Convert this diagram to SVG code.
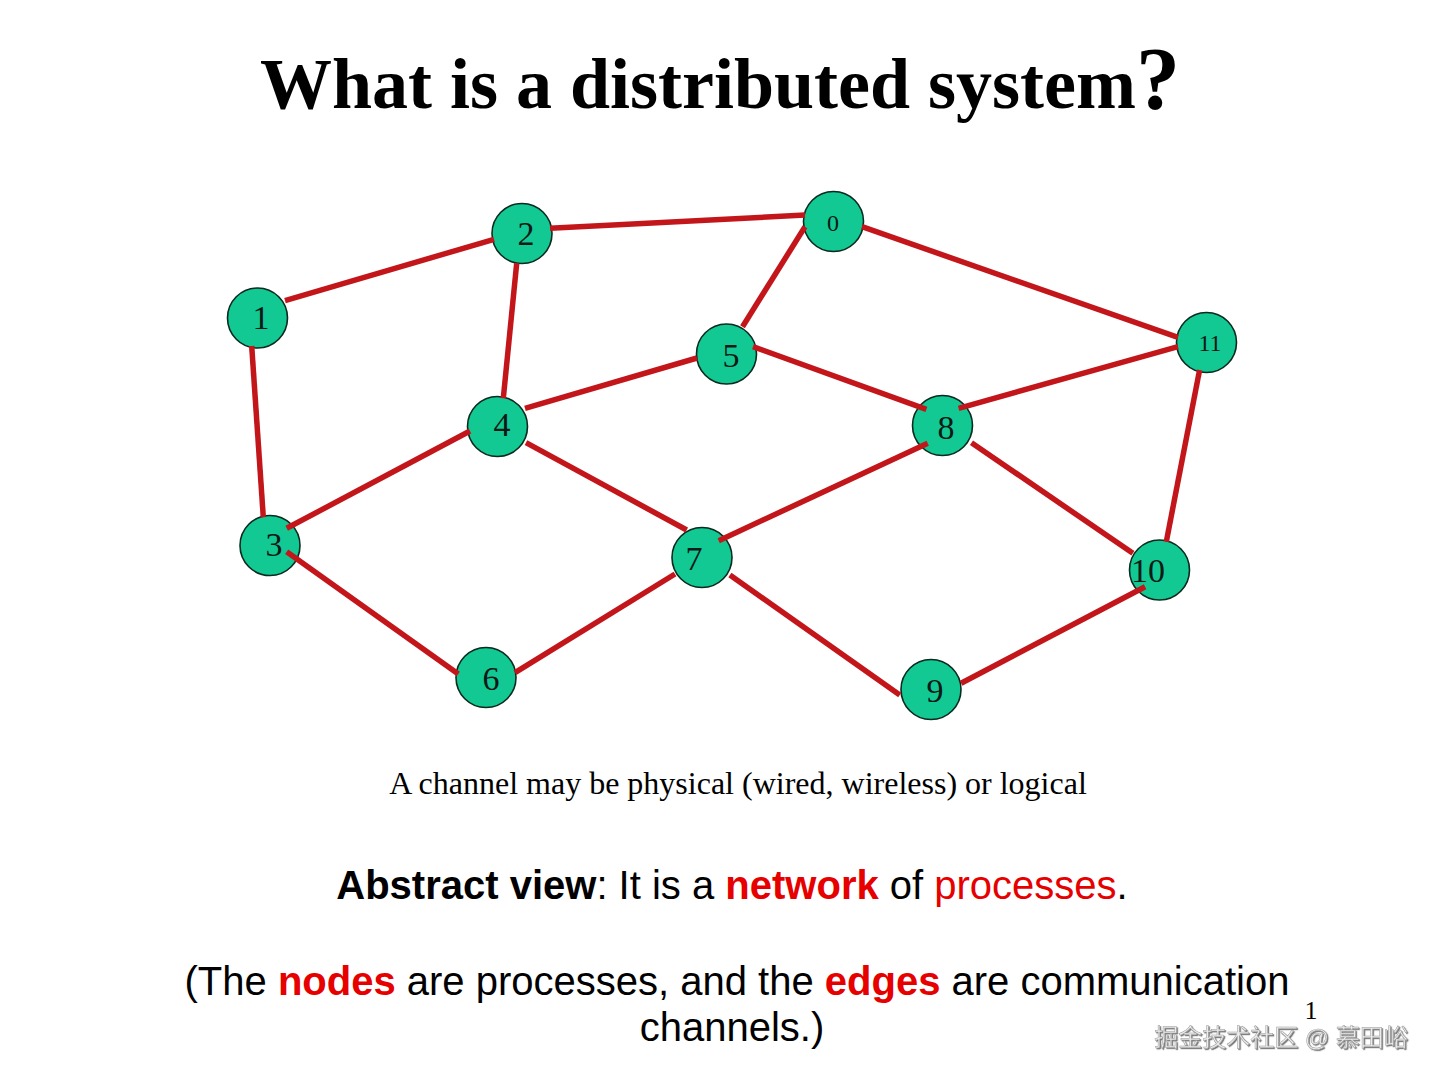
<svg xmlns="http://www.w3.org/2000/svg" width="1440" height="1080" viewBox="0 0 1440 1080">
<defs>
<style>
.node circle{fill:#12c994;stroke:#0a2a1e;stroke-width:1.6}
.node text{font-family:"Liberation Serif","Times New Roman",serif;font-size:34px;fill:#0b1a14;text-anchor:middle}
.node text.sm{font-size:24px}
#edges line{stroke:#c3161b;stroke-width:5.5;stroke-linecap:butt}
.sans{font-family:"Liberation Sans",Arial,sans-serif;font-size:40px;fill:#000}
.red{fill:#e60000}
.b{font-weight:bold}
</style>
<filter id="sh" x="-5%" y="-20%" width="110%" height="140%">
<feDropShadow dx="1.2" dy="1.2" stdDeviation="0.6" flood-color="#666" flood-opacity="0.9"/>
</filter>
</defs>
<rect width="1440" height="1080" fill="#fff"/>
<text x="720" y="108" text-anchor="middle" font-family="'Liberation Serif','Times New Roman',serif" font-weight="bold" font-size="72" fill="#000">What is a distributed system<tspan font-size="88">?</tspan></text>

<g id="nodes">
<g id="n0" class="node"><circle cx="833.5" cy="221.5" r="30"/><text class="sm" x="833" y="231">0</text></g>
<g id="n1" class="node"><circle cx="257.5" cy="318" r="30"/><text x="261" y="329">1</text></g>
<g id="n2" class="node"><circle cx="522" cy="233.5" r="30"/><text x="526" y="245">2</text></g>
<g id="n3" class="node"><circle cx="270" cy="545.5" r="30"/><text x="274" y="556">3</text></g>
<g id="n4" class="node"><circle cx="497.5" cy="426.5" r="30"/><text x="502" y="436">4</text></g>
<g id="n5" class="node"><circle cx="726.5" cy="354" r="30"/><text x="731" y="367">5</text></g>
<g id="n6" class="node"><circle cx="486" cy="677.5" r="30"/><text x="491" y="690">6</text></g>
<g id="n7" class="node"><circle cx="702" cy="557.5" r="30"/><text x="694" y="570">7</text></g>
<g id="n8" class="node"><circle cx="942.5" cy="425.5" r="30"/><text x="946" y="439">8</text></g>
<g id="n9" class="node"><circle cx="931" cy="689.5" r="30"/><text x="935" y="702">9</text></g>
<g id="n10" class="node"><circle cx="1159.5" cy="570" r="30"/><text x="1148" y="582">10</text></g>
<g id="n11" class="node"><circle cx="1206.5" cy="342.5" r="30"/><text class="sm" x="1210" y="351">11</text></g>
</g>

<g id="edges">
<line x1="285" y1="300.7" x2="494" y2="239.3"/>
<line x1="251.7" y1="346" x2="263.3" y2="517.3"/>
<line x1="550" y1="228.3" x2="805" y2="215"/>
<line x1="516.7" y1="263.3" x2="503.3" y2="398.3"/>
<line x1="805" y1="226.7" x2="742.5" y2="326.7"/>
<line x1="862" y1="226.7" x2="1178" y2="337.3"/>
<line x1="525" y1="408.3" x2="697" y2="358"/>
<line x1="753" y1="346.7" x2="926.4" y2="409.3"/>
<line x1="958.6" y1="408.3" x2="1178" y2="346.7"/>
<line x1="1199.6" y1="370" x2="1166.3" y2="541.7"/>
<line x1="286.7" y1="528.3" x2="470" y2="431"/>
<line x1="526" y1="442.7" x2="686.7" y2="530"/>
<line x1="286.7" y1="551.7" x2="458.3" y2="674"/>
<line x1="515" y1="672.7" x2="675" y2="574"/>
<line x1="927.7" y1="443.3" x2="718.7" y2="540.7"/>
<line x1="971.5" y1="442.7" x2="1132.9" y2="553.3"/>
<line x1="729.9" y1="575" x2="899.8" y2="695"/>
<line x1="961.1" y1="683.3" x2="1145.1" y2="586.7"/>
</g>

<text x="738" y="794" text-anchor="middle" font-family="'Liberation Serif','Times New Roman',serif" font-size="32" fill="#000">A channel may be physical (wired, wireless) or logical</text>

<text class="sans" x="732" y="899" text-anchor="middle"><tspan class="b">Abstract view</tspan>: It is a <tspan class="b red">network</tspan> of <tspan class="red">processes</tspan>.</text>
<text class="sans" x="737" y="995" text-anchor="middle">(The <tspan class="b red">nodes</tspan> are processes, and the <tspan class="b red">edges</tspan> are communication</text>
<text class="sans" x="732" y="1041" text-anchor="middle">channels.)</text>

<text x="1311" y="1019" text-anchor="middle" font-family="'Liberation Serif','Times New Roman',serif" font-size="26" fill="#000">1</text>
<text x="1281" y="1046" text-anchor="middle" font-family="'Liberation Sans','Noto Sans CJK SC',sans-serif" font-size="24" fill="#ececec" stroke="#9a9a9a" stroke-width="0.5" filter="url(#sh)">掘金技术社区 @ 慕田峪</text>
</svg>
